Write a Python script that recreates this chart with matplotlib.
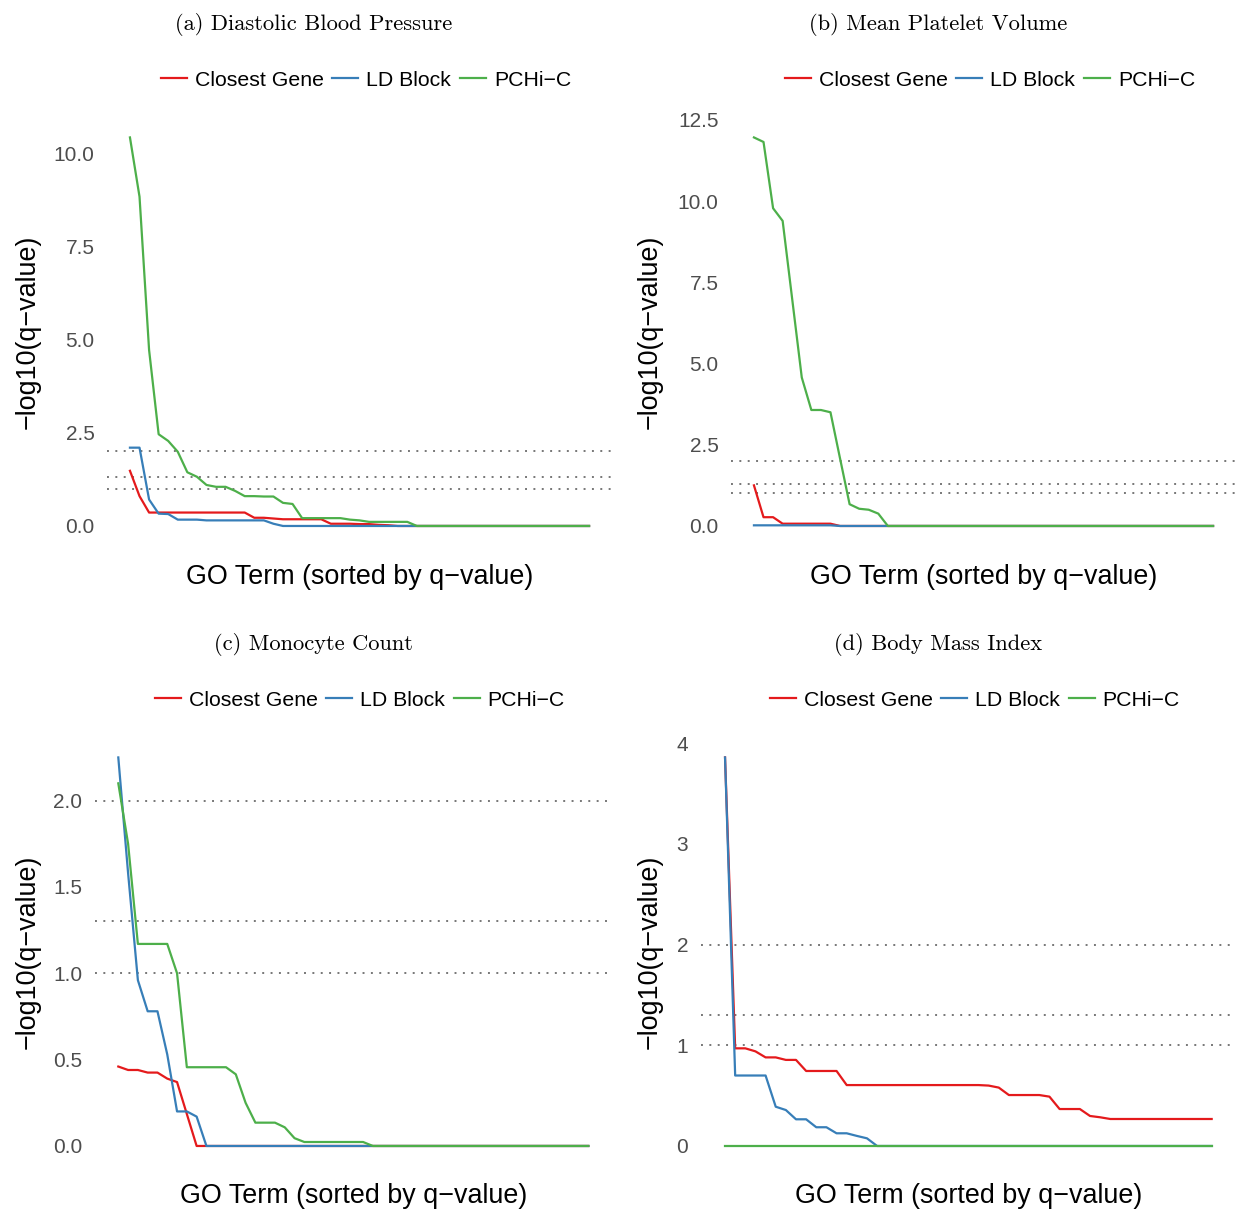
import matplotlib
matplotlib.use('Agg')
import matplotlib.pyplot as plt

plt.rcParams['font.family'] = ['Liberation Sans', 'DejaVu Sans']

W, H = 1239, 1209

series_names = ['Closest Gene', 'LD Block', 'PCHi\u2212C']
series_colors = ['#E41A1C', '#377EB8', '#4DAF4A']
thresholds = [2.0, 1.301, 1.0]

titles = ['(a) Diastolic Blood Pressure', '(b) Mean Platelet Volume',
          '(c) Monocyte Count', '(d) Body Mass Index']

# (a) Diastolic Blood Pressure
red_a = [1.48, 0.80, 0.36, 0.36, 0.36, 0.36, 0.36, 0.36, 0.36, 0.36, 0.36, 0.36, 0.36,
         0.22, 0.22, 0.20, 0.18, 0.18, 0.18, 0.18, 0.18, 0.06, 0.06, 0.06, 0.05, 0.05,
         0.03, 0.02] + [0] * 21
blue_a = [2.10, 2.10, 0.71, 0.33, 0.32, 0.17, 0.17, 0.17, 0.15, 0.15, 0.15, 0.15, 0.15,
          0.15, 0.15, 0.06] + [0] * 33
green_a = [10.42, 8.83, 4.72, 2.46, 2.28, 1.99, 1.44, 1.32, 1.10, 1.05, 1.05, 0.94, 0.80,
           0.80, 0.79, 0.79, 0.62, 0.59, 0.21, 0.21, 0.21, 0.21, 0.21, 0.17, 0.15, 0.11,
           0.11, 0.11, 0.11, 0.11] + [0] * 19

# (b) Mean Platelet Volume
red_b = [1.25, 0.27, 0.27, 0.07, 0.07, 0.07, 0.07, 0.07, 0.07] + [0] * 40
blue_b = [0.02] * 9 + [0] * 40
green_b = [11.96, 11.82, 9.78, 9.39, 6.98, 4.57, 3.57, 3.57, 3.50, 2.08, 0.67, 0.53,
           0.50, 0.38] + [0] * 35

# (c) Monocyte Count
red_c = [0.46, 0.44, 0.44, 0.425, 0.425, 0.39, 0.37, 0.185] + [0] * 41
blue_c = [2.25, 1.58, 0.96, 0.78, 0.78, 0.53, 0.20, 0.20, 0.17] + [0] * 40
green_c = [2.10, 1.75, 1.17, 1.17, 1.17, 1.17, 1.00, 0.456, 0.456, 0.456, 0.456, 0.456,
           0.415, 0.25, 0.135, 0.135, 0.135, 0.108, 0.045, 0.023, 0.023, 0.023, 0.023,
           0.023, 0.023, 0.023] + [0] * 23

# (d) Body Mass Index
red_d = [3.86, 0.97, 0.97, 0.94, 0.88, 0.88, 0.855, 0.855, 0.745, 0.745, 0.745, 0.745,
         0.605, 0.605, 0.605, 0.605, 0.605, 0.605, 0.605, 0.605, 0.605, 0.605, 0.605,
         0.605, 0.605, 0.605, 0.60, 0.58, 0.506, 0.506, 0.506, 0.506, 0.49, 0.367, 0.367,
         0.367, 0.298, 0.285] + [0.268] * 11
blue_d = [3.86, 0.70, 0.70, 0.70, 0.70, 0.39, 0.357, 0.265, 0.265, 0.186, 0.186, 0.126,
          0.126, 0.10, 0.076] + [0] * 34
green_d = [0] * 49

panel_data = [(red_a, blue_a, green_a), (red_b, blue_b, green_b),
              (red_c, blue_c, green_c), (red_d, blue_d, green_d)]
y_ticks = [[0, 2.5, 5, 7.5, 10], [0, 2.5, 5, 7.5, 10, 12.5],
           [0, 0.5, 1, 1.5, 2], [0, 1, 2, 3, 4]]
y_fmt = ['%.1f', '%.1f', '%.1f', '%d']

# panel boxes in pixels: left, top, right, bottom
boxes = [(107, 118, 612, 545.4), (731, 118, 1236, 545.4),
         (94.8, 738, 611.8, 1165.4), (700.7, 738, 1236, 1165.4)]
title_pos = [(314, 24), (938, 24), (313, 644), (938, 644)]
legend_y = [80, 80, 700, 700]
ylabel_x = [28, 650, 28, 650]
xlabel_y = [577, 577, 1196, 1196]


def fx(x):
    return x / W


def fy(y):
    return 1 - y / H


fig = plt.figure(figsize=(W / 100, H / 100), dpi=100)

for i in range(4):
    l, t, r, b = boxes[i]
    ax = fig.add_axes([fx(l), fy(b), (r - l) / W, (b - t) / H])

    # 显著性阈值虚线
    for h in thresholds:
        ax.axhline(h, color='#777777', lw=1.4, linestyle=(0, (1, 3.3)), zorder=1)

    handles = []
    for vals, name, col in zip(panel_data[i], series_names, series_colors):
        x = list(range(len(vals)))
        line, = ax.plot(x, vals, color=col, lw=1.6, label=name, zorder=2)
        handles.append(line)

    ax.margins(x=0.05, y=0.05)
    ax.set_yticks(y_ticks[i])
    ax.set_yticklabels([y_fmt[i] % v for v in y_ticks[i]])
    ax.set_xticks([])
    ax.tick_params(axis='y', length=0, pad=9, labelsize=15, labelcolor='#4D4D4D')
    for s in ax.spines.values():
        s.set_visible(False)

    cx = (l + r) / 2
    fig.legend(handles=handles, loc='center', bbox_to_anchor=(fx(cx + 6.5), fy(legend_y[i])),
               ncol=3, frameon=False, fontsize=15.3, handlelength=1.22,
               handletextpad=0.38, columnspacing=0.4, borderpad=0)

    fig.text(fx(title_pos[i][0]), fy(title_pos[i][1]), titles[i],
             family=['cmr10', 'DejaVu Serif'], fontsize=16.2, ha='center', va='center')
    fig.text(fx(cx), fy(xlabel_y[i]), 'GO Term (sorted by q\u2212value)',
             fontsize=19.4, ha='center', va='center')
    fig.text(fx(ylabel_x[i]), fy((t + b) / 2), '\u2212log10(q\u2212value)',
             fontsize=19.4, ha='center', va='center', rotation=90)

fig.savefig('out.png', dpi=100)
